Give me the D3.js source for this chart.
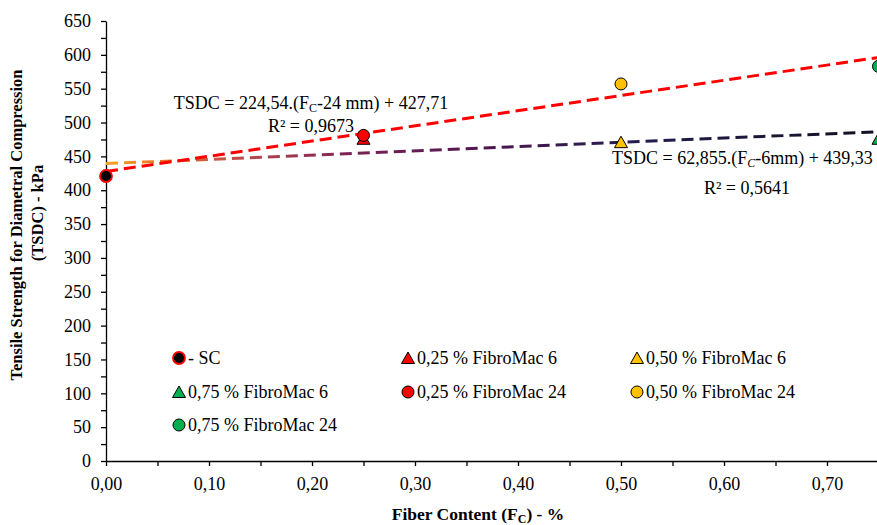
<!DOCTYPE html>
<html>
<head>
<meta charset="utf-8">
<script src="https://cdn.jsdelivr.net/npm/d3@7"></script>
<style>
body { margin: 0; background: #fff; }
svg text { fill: #000; }
</style>
</head>
<body>
<div class="chart-container"></div>
<script>
// series (x = fiber content %, y = TSDC kPa)
const series_names = ['- SC', '0,25 % FibroMac 6', '0,50 % FibroMac 6', '0,75 % FibroMac 6',
                      '0,25 % FibroMac 24', '0,50 % FibroMac 24', '0,75 % FibroMac 24'];
const series_x = [0, 0.25, 0.50, 0.75, 0.25, 0.50, 0.75];
const series_y = [421, 476, 471, 476, 481, 557, 583];

// trend lines, from the equations printed on the chart
const trend_names = ['FibroMac 24', 'FibroMac 6'];
const trend_slope = [224.54, 62.855];
const trend_intercept = [427.71, 439.33];
const trend_x_range = [0, 0.8];

// axis ticks
const y_ticks = d3.range(0, 651, 50);
const y_minor_ticks = d3.range(25, 651, 50);
const x_ticks = [0, 0.1, 0.2, 0.3, 0.4, 0.5, 0.6, 0.7];
const x_minor_ticks = [0.05, 0.15, 0.25, 0.35, 0.45, 0.55, 0.65, 0.75];

// marker styles, same order as series
const series_shape = ['circle', 'triangle', 'triangle', 'triangle', 'circle', 'circle', 'circle'];
const series_fill = ['#000000', '#ff0000', '#ffc000', '#00b050', '#ff0000', '#ffc000', '#00b050'];
const series_stroke = ['#ff0000', '#000', '#000', '#000', '#000', '#000', '#000'];

const SERIF = 'Liberation Serif';
const FS = 18;
const comma = v => d3.format('.2f')(v).replace('.', ',');

function build_svg() {
   return d3.select('.chart-container')
      .append('svg')
      .attr('width', 877)
      .attr('height', 525);
}

function draw_marker(g, shape, fill, stroke) {
   if (shape === 'circle') {
      g.append('circle')
         .attr('r', 6)
         .style('fill', fill)
         .style('stroke', stroke)
         .style('stroke-width', stroke === '#ff0000' ? 1.8 : 1);
   } else {
      g.append('path')
         .attr('d', 'M0,-6 L6.5,5.5 L-6.5,5.5 Z')
         .style('fill', fill)
         .style('stroke', stroke)
         .style('stroke-width', 1);
   }
}

function draw_axes(svg, x, y) {
   svg.append('g')
      .attr('transform', `translate(${x(0)},0)`)
      .call(d3.axisLeft(y).tickValues(y_ticks).tickSize(5).tickSizeOuter(0).tickPadding(10));
   svg.append('g')
      .attr('transform', `translate(${x(0)},0)`)
      .call(d3.axisLeft(y).tickValues(y_minor_ticks).tickSize(5).tickFormat(''))
      .select('.domain').remove();

   svg.append('g')
      .attr('transform', `translate(0,${y(0)})`)
      .call(d3.axisBottom(x).tickValues(x_ticks).tickSize(5).tickSizeOuter(0).tickPadding(11).tickFormat(comma));
   svg.append('g')
      .attr('transform', `translate(0,${y(0)})`)
      .call(d3.axisBottom(x).tickValues(x_minor_ticks).tickSize(5).tickFormat(''))
      .select('.domain').remove();

   svg.selectAll('g[font-family]').attr('font-family', SERIF).attr('font-size', FS);
   svg.selectAll('.domain, .tick line')
      .style('stroke', '#000')
      .style('stroke-width', 1.3);
}

function draw_trends(svg, x, y) {
   const defs = svg.append('defs');
   const grad = defs.append('linearGradient')
      .attr('id', 'fm6-grad')
      .attr('gradientUnits', 'userSpaceOnUse')
      .attr('x1', x(0)).attr('x2', x(0.75))
      .attr('y1', 0).attr('y2', 0);
   [[0, '#f7a21b'], [0.07, '#e8762a'], [0.17, '#bf4a4a'], [0.32, '#7a2257'],
    [0.5, '#4d1650'], [0.7, '#1f1d4d'], [1, '#111122']].forEach(s => {
      grad.append('stop').attr('offset', s[0]).attr('stop-color', s[1]);
   });

   const line = d3.line().x(d => x(d[0])).y(d => y(d[1]));
   const colors = ['#ff0000', 'url(#fm6-grad)'];

   // draw FibroMac 6 first so the red line sits on top
   [1, 0].forEach(i => {
      const pts = trend_x_range.map(v => [v, trend_slope[i] * v + trend_intercept[i]]);
      svg.append('path')
         .attr('class', 'trend ' + trend_names[i].replace(' ', '-'))
         .attr('d', line(pts))
         .style('fill', 'none')
         .style('stroke', colors[i])
         .style('stroke-width', 3)
         .style('stroke-dasharray', '12,6');
   });
}

function draw_points(svg, x, y) {
   series_x.forEach((v, i) => {
      const g = svg.append('g')
         .attr('transform', `translate(${x(v)},${y(series_y[i])})`);
      draw_marker(g, series_shape[i], series_fill[i], series_stroke[i]);
   });
}

function draw_legend(svg) {
   const col_x = [179, 408, 637];
   const row_y = [358, 392, 425];
   series_names.forEach((name, i) => {
      const g = svg.append('g')
         .attr('transform', `translate(${col_x[i % 3]},${row_y[Math.floor(i / 3)]})`);
      draw_marker(g, series_shape[i], series_fill[i], series_stroke[i]);
      g.append('text')
         .attr('x', 9)
         .attr('y', 6)
         .attr('font-family', SERIF)
         .attr('font-size', FS)
         .text(name);
   });
}

function draw_labels(svg) {
   // equation for FibroMac 24
   const t1 = svg.append('text')
      .attr('x', 311).attr('y', 109)
      .attr('text-anchor', 'middle')
      .attr('font-family', SERIF)
      .attr('font-size', FS);
   t1.append('tspan').text('TSDC = 224,54.(F');
   t1.append('tspan').attr('dy', 3).attr('font-size', 12).text('C');
   t1.append('tspan').attr('dy', -3).text('-24 mm) + 427,71');
   svg.append('text')
      .attr('x', 311).attr('y', 132)
      .attr('text-anchor', 'middle')
      .attr('font-family', SERIF)
      .attr('font-size', FS)
      .text('R² = 0,9673');

   // equation for FibroMac 6
   const t2 = svg.append('text')
      .attr('x', 612).attr('y', 164)
      .attr('font-family', SERIF)
      .attr('font-size', FS);
   t2.append('tspan').text('TSDC = 62,855.(F');
   t2.append('tspan').attr('dy', 3).attr('font-size', 12).style('font-style', 'italic').text('C');
   t2.append('tspan').attr('dy', -3).text('-6mm) + 439,33');
   svg.append('text')
      .attr('x', 747).attr('y', 194)
      .attr('text-anchor', 'middle')
      .attr('font-family', SERIF)
      .attr('font-size', FS)
      .text('R² = 0,5641');

   // axis titles
   const yt = svg.append('g')
      .attr('transform', 'translate(22,225) rotate(-90)');
   yt.append('text')
      .attr('text-anchor', 'middle')
      .attr('font-family', SERIF)
      .attr('font-size', 16.5).attr('font-weight', 'bold')
      .text('Tensile Strength  for Diametral Compression');
   yt.append('text')
      .attr('x', 12).attr('y', 21)
      .attr('text-anchor', 'middle')
      .attr('font-family', SERIF)
      .attr('font-size', 16.5).attr('font-weight', 'bold')
      .text('(TSDC)  - kPa');

   const xt = svg.append('text')
      .attr('x', 478).attr('y', 520)
      .attr('text-anchor', 'middle')
      .attr('font-family', SERIF)
      .attr('font-size', 17.5).attr('font-weight', 'bold');
   xt.append('tspan').text('Fiber Content  (F');
   xt.append('tspan').attr('dy', 3).attr('font-size', 12).text('C');
   xt.append('tspan').attr('dy', -3).text(') - %');
}

function main() {
   const x = d3.scaleLinear().domain([0, 0.8]).range([106, 930]);
   const y = d3.scaleLinear().domain([0, 650]).range([461, 21]);
   const svg = build_svg();
   draw_axes(svg, x, y);
   draw_trends(svg, x, y);
   draw_points(svg, x, y);
   draw_legend(svg);
   draw_labels(svg);
}

main();
</script>
</body>
</html>
